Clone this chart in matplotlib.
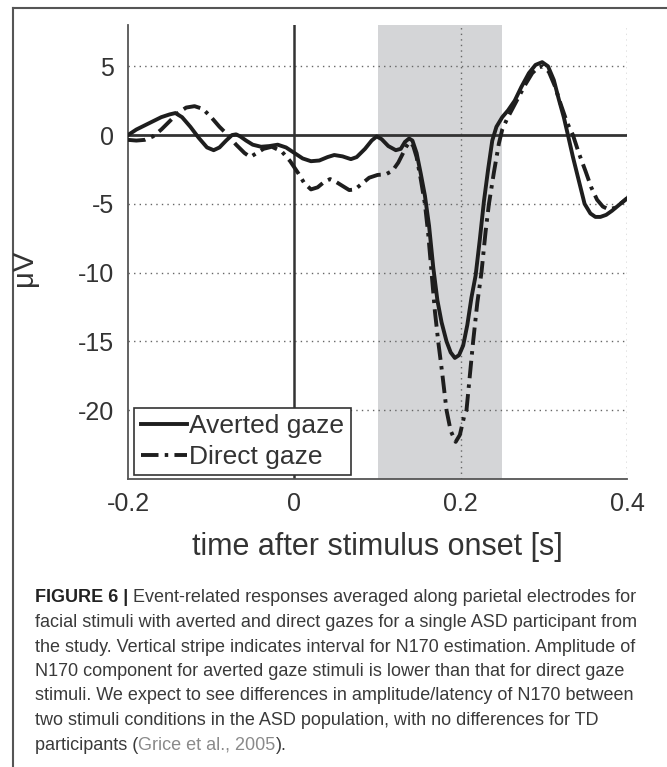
import matplotlib
matplotlib.use("Agg")
import matplotlib.pyplot as plt

# ERP curves (time in s, amplitude in microvolts)
t_averted = [-0.200, -0.190, -0.180, -0.170, -0.160, -0.150, -0.143, -0.135, -0.125, -0.115,
             -0.105, -0.097, -0.090, -0.082, -0.075, -0.070, -0.065, -0.058, -0.050, -0.040,
             -0.030, -0.020, -0.010, 0.000, 0.010, 0.020, 0.030, 0.040, 0.048, 0.058,
             0.068, 0.075, 0.085, 0.093, 0.099, 0.105, 0.113, 0.122, 0.128, 0.133,
             0.138, 0.142, 0.147, 0.152, 0.157, 0.162, 0.167, 0.172, 0.177, 0.183,
             0.188, 0.193, 0.198, 0.203, 0.208, 0.213, 0.218, 0.223, 0.228, 0.233,
             0.238, 0.243, 0.250, 0.257, 0.265, 0.273, 0.282, 0.290, 0.298, 0.305,
             0.312, 0.318, 0.324, 0.329, 0.335, 0.342, 0.349, 0.356, 0.362, 0.368,
             0.375, 0.382, 0.390, 0.400]
v_averted = [0.0, 0.4, 0.7, 1.0, 1.3, 1.5, 1.6, 1.3, 0.6, -0.2,
             -0.9, -1.1, -0.9, -0.4, 0.0, 0.05, -0.1, -0.4, -0.7, -0.85,
             -0.8, -0.7, -0.9, -1.3, -1.7, -1.9, -1.85, -1.6, -1.45, -1.55,
             -1.75, -1.6, -1.0, -0.4, -0.1, -0.3, -0.8, -1.1, -1.0, -0.5,
             -0.25, -0.4, -1.3, -2.8, -4.4, -6.6, -9.6, -12.0, -13.6, -15.0,
             -15.8, -16.2, -16.0, -15.3, -13.8, -11.8, -10.2, -7.6, -4.8, -2.5,
             -0.4, 0.6, 1.3, 1.8, 2.5, 3.5, 4.5, 5.1, 5.3, 5.0,
             4.0, 2.6, 1.3, 0.0, -1.6, -3.3, -5.0, -5.7, -5.95, -5.95,
             -5.8, -5.5, -5.1, -4.6]

t_direct = [-0.200, -0.190, -0.180, -0.170, -0.160, -0.150, -0.140, -0.130, -0.120, -0.110,
            -0.100, -0.090, -0.080, -0.070, -0.060, -0.053, -0.045, -0.037, -0.027, -0.015,
            -0.005, 0.005, 0.012, 0.020, 0.028, 0.036, 0.043, 0.050, 0.058, 0.066,
            0.073, 0.082, 0.090, 0.100, 0.110, 0.118, 0.125, 0.130, 0.135, 0.139,
            0.143, 0.147, 0.152, 0.157, 0.161, 0.165, 0.169, 0.173, 0.178, 0.183,
            0.188, 0.194, 0.199, 0.204, 0.207, 0.211, 0.215, 0.220, 0.225, 0.230,
            0.234, 0.240, 0.246, 0.250, 0.256, 0.263, 0.270, 0.278, 0.286, 0.293,
            0.299, 0.306, 0.313, 0.320, 0.328, 0.335, 0.342, 0.350, 0.357, 0.364,
            0.371, 0.378, 0.385, 0.392, 0.400]
v_direct = [-0.35, -0.4, -0.35, -0.1, 0.4, 1.0, 1.6, 2.0, 2.1, 1.9,
            1.3, 0.6, 0.0, -0.7, -1.3, -1.6, -1.3, -1.0, -0.85, -1.2,
            -1.9, -2.8, -3.5, -3.95, -3.8, -3.4, -3.2, -3.4, -3.7, -4.0,
            -3.95, -3.5, -3.1, -2.9, -2.85, -2.6, -2.0, -1.4, -0.8, -0.5,
            -0.8, -1.6, -3.2, -5.0, -7.2, -10.0, -12.8, -15.0, -17.4, -20.0,
            -21.5, -22.3, -21.8, -20.5, -20.0, -17.5, -15.0, -12.2, -10.0, -7.0,
            -5.0, -2.7, -0.6, 0.4, 1.2, 2.0, 2.8, 3.7, 4.5, 4.9,
            5.0, 4.6, 3.6, 2.3, 0.9, 0.0, -1.3, -2.6, -3.8, -4.7,
            -5.2, -5.4, -5.3, -5.0, -4.6]

n170_window = (0.1, 0.25)
x_ticks = [-0.2, 0, 0.2, 0.4]
x_tick_labels = ['-0.2', '0', '0.2', '0.4']
y_ticks = [5, 0, -5, -10, -15, -20]
y_grid = [5, -5, -10, -15, -20]
x_grid = [0.2, 0.4]

caption_lines = [
    [("FIGURE 6 |", "#222222", "bold"), ("Event-related responses averaged along parietal electrodes for", "#3a3a3a", "normal")],
    [("facial stimuli with averted and direct gazes for a single ASD participant from", "#3a3a3a", "normal")],
    [("the study. Vertical stripe indicates interval for N170 estimation. Amplitude of", "#3a3a3a", "normal")],
    [("N170 component for averted gaze stimuli is lower than that for direct gaze", "#3a3a3a", "normal")],
    [("stimuli. We expect to see differences in amplitude/latency of N170 between", "#3a3a3a", "normal")],
    [("two stimuli conditions in the ASD population, with no differences for TD", "#3a3a3a", "normal")],
    [("participants (", "#3a3a3a", "normal"), ("Grice et al., 2005", "#8a8a8a", "normal"), (").", "#3a3a3a", "normal")],
]

plt.rcParams['font.family'] = ['Liberation Sans', 'DejaVu Sans']

W, H = 667, 767
fig = plt.figure(figsize=(W / 100, H / 100), dpi=100)
fig.patch.set_facecolor('white')

ax = fig.add_axes([128 / W, 1 - 479 / H, 499 / W, 454 / H])

# N170 stripe
ax.axvspan(n170_window[0], n170_window[1], color='#d4d5d7', lw=0, zorder=0)

for yv in y_grid:
    ax.axhline(yv, color='#666666', lw=1, ls=(0, (1, 3)), zorder=1)
for xv in x_grid:
    ax.axvline(xv, color='#666666', lw=1, ls=(0, (1, 3)), zorder=1)

ax.axhline(0, color='#333333', lw=2, zorder=2)
ax.axvline(0, color='#333333', lw=1.8, zorder=2)

ax.plot(t_averted, v_averted, color='#1e1e1e', lw=2.8, label='Averted gaze', zorder=4)
ax.plot(t_direct, v_direct, color='#1e1e1e', lw=2.8, ls=(0, (4.5, 1.6, 0.9, 1.6)),
        label='Direct gaze', zorder=3)

ax.set_xlim(-0.2, 0.4)
ax.set_ylim(-25, 8)
ax.set_xticks(x_ticks)
ax.set_xticklabels(x_tick_labels)
ax.set_yticks(y_ticks)
ax.set_yticklabels([str(v) for v in y_ticks])
ax.tick_params(length=0, labelsize=18, labelcolor='#333333')
ax.tick_params(axis='x', pad=9)
ax.tick_params(axis='y', pad=10)

for side in ['top', 'right']:
    ax.spines[side].set_visible(False)
for side in ['left', 'bottom']:
    ax.spines[side].set_color('#555555')
    ax.spines[side].set_linewidth(1.3)

ax.set_xlabel('time after stimulus onset [s]', fontsize=22, color='#333333', labelpad=12)
fig.text(24 / W, 1 - 268 / H, 'μV', rotation=90, fontsize=21, color='#333333',
         ha='center', va='center')

leg = ax.legend(loc='lower left', bbox_to_anchor=(0.012, 0.008), fontsize=19,
                handlelength=1.75, handletextpad=0.1, labelspacing=0.25,
                borderpad=0.25, borderaxespad=0, fancybox=False, framealpha=1)
leg.get_frame().set_edgecolor('#333333')
leg.get_frame().set_linewidth(1.2)
for txt in leg.get_texts():
    txt.set_color('#333333')

# outer figure border (top and left visible)
fig.add_artist(plt.Line2D([13 / W, 1], [1 - 8 / H, 1 - 8 / H], color='#555555', lw=1.5))
fig.add_artist(plt.Line2D([13 / W, 13 / W], [0, 1 - 8 / H], color='#555555', lw=1.5))

# caption, drawn line by line
fig.canvas.draw()
renderer = fig.canvas.get_renderer()
y0, dy = 598, 24.5
for i, parts in enumerate(caption_lines):
    x_px = 35
    y_fig = 1 - (y0 + i * dy) / H
    for j, (s, col, wt) in enumerate(parts):
        t = fig.text(x_px / W, y_fig, s, fontsize=13, color=col, weight=wt, va='center')
        bb = t.get_window_extent(renderer)
        gap = 4.5 if (j == 0 and len(parts) == 2) else 0
        x_px = bb.x1 + gap

fig.savefig('out.png', dpi=100)
